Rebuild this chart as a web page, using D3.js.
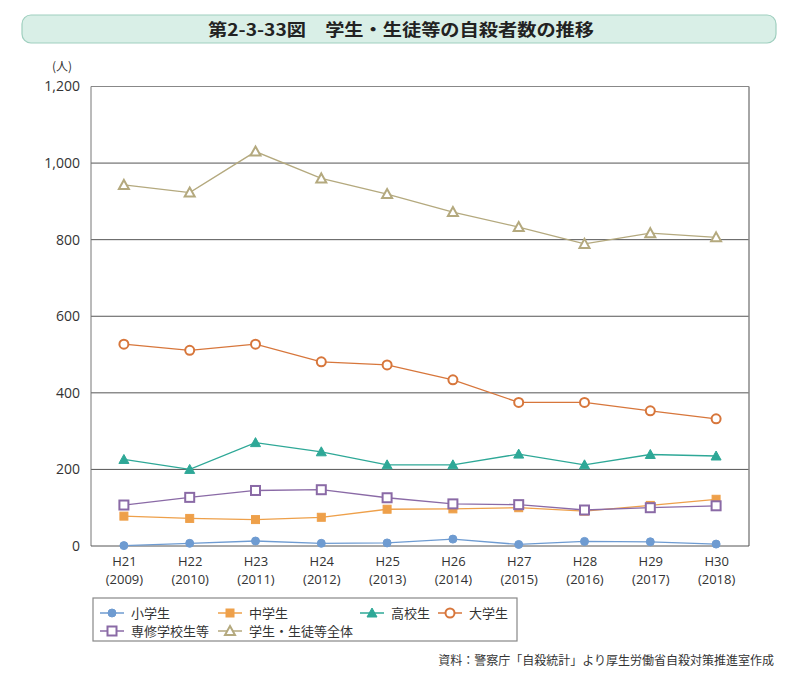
<!DOCTYPE html>
<html><head><meta charset="utf-8">
<script src="https://cdn.jsdelivr.net/npm/d3@7/dist/d3.min.js"></script>
<style>body{margin:0;background:#fff;}svg{display:block;font-family:"Noto Sans CJK JP","Noto Sans",sans-serif;}</style>
</head><body><svg id="c" width="800" height="682"></svg>
<script>
const categories = ["H21","H22","H23","H24","H25","H26","H27","H28","H29","H30"];
const years = ["(2009)","(2010)","(2011)","(2012)","(2013)","(2014)","(2015)","(2016)","(2017)","(2018)"];
const elementary = [1,7,13,7,8,18,4,12,11,5];
const juniorHigh = [78,72,69,75,96,97,100,91,106,122];
const highSchool = [226,200,270,246,212,212,240,212,239,235];
const university = [527,511,527,481,473,434,375,375,353,332];
const vocational = [107,127,145,147,126,110,108,94,100,105];
const total = [943,923,1030,960,919,872,833,789,817,806];
const yTicks = [0,200,400,600,800,1000,1200];
const seriesNames = ["小学生","中学生","高校生","大学生","専修学校生等","学生・生徒等全体"];

const series = [
  {name:seriesNames[0], values:elementary, color:"#6e9bd1", shape:"circle", filled:true},
  {name:seriesNames[1], values:juniorHigh, color:"#eea04a", shape:"square", filled:true},
  {name:seriesNames[2], values:highSchool, color:"#2ea897", shape:"triangle", filled:true},
  {name:seriesNames[3], values:university, color:"#d7763b", shape:"circle", filled:false},
  {name:seriesNames[4], values:vocational, color:"#8a6aa6", shape:"square", filled:false},
  {name:seriesNames[5], values:total, color:"#b4a97e", shape:"triangle", filled:false}
];

const svg = d3.select("#c");
const L=91, R=749, T=86.5, B=546;
const numFont = "'Open Sans','Noto Sans',sans-serif";

// title
svg.append("rect").attr("x",22).attr("y",15).attr("width",754).attr("height",28).attr("rx",9)
  .attr("fill","#d9efe7").attr("stroke","#9fcfbf").attr("stroke-width",1.2);
svg.append("text").attr("x",208).attr("y",35.5)
  .attr("font-size",17).attr("font-weight","bold").attr("fill","#222")
  .attr("textLength",386).attr("lengthAdjust","spacingAndGlyphs")
  .text("第2-3-33図　学生・生徒等の自殺者数の推移");

const x = d3.scalePoint().domain(categories).range([L,R]).padding(0.5);
const y = d3.scaleLinear().domain([0,1200]).range([B,T]);

// gridlines
svg.append("g").selectAll("line").data(yTicks.filter(d=>d>0)).join("line")
  .attr("x1",L).attr("x2",R).attr("y1",d=>y(d)).attr("y2",d=>y(d))
  .attr("stroke",d=>d===1200?"#888":"#555").attr("stroke-width",1);
// border
svg.append("line").attr("x1",L).attr("x2",L).attr("y1",T).attr("y2",B).attr("stroke","#777");
svg.append("line").attr("x1",R).attr("x2",R).attr("y1",T).attr("y2",B).attr("stroke","#888").attr("stroke-width",1.5);

// y axis
const yAxis = d3.axisLeft(y).tickValues(yTicks).tickSize(0).tickPadding(11).tickFormat(d3.format(","));
const gy = svg.append("g").attr("transform",`translate(${L},0)`).call(yAxis);
gy.select(".domain").remove();
gy.selectAll("text").attr("font-size",14).attr("fill","#333").attr("font-family",numFont);
svg.append("text").attr("x",62).attr("y",71).attr("text-anchor","middle").attr("font-size",12).attr("fill","#333").text("(人)");

// x axis
const xAxis = d3.axisBottom(x).tickSize(0).tickPadding(0);
const gx = svg.append("g").attr("transform",`translate(0,${B})`).call(xAxis);
gx.select(".domain").attr("stroke","#555").attr("d",`M${L},0H${R}`);
gx.selectAll("text").attr("y",20).attr("dy",null).attr("font-size",13).attr("fill","#333").attr("font-family",numFont);
gx.selectAll(".tick").append("text").attr("y",38).attr("fill","#333").attr("font-size",13)
  .attr("text-anchor","middle").attr("font-family",numFont)
  .text((d,i)=>years[i]);

function drawMarker(g, s, cx, cy){
  const sw = s.filled?1:2;
  const fill = s.filled?s.color:"#fff";
  if(s.shape==="circle"){
    g.append("circle").attr("cx",cx).attr("cy",cy).attr("r",s.filled?4:4.5)
      .attr("fill",fill).attr("stroke",s.color).attr("stroke-width",sw);
  } else if(s.shape==="square"){
    const h = s.filled?4:4.5;
    g.append("rect").attr("x",cx-h).attr("y",cy-h).attr("width",2*h).attr("height",2*h)
      .attr("fill",fill).attr("stroke",s.color).attr("stroke-width",sw);
  } else {
    const h = 5;
    g.append("path").attr("d",`M${cx},${cy-h}L${cx+h},${cy+h*0.8}L${cx-h},${cy+h*0.8}Z`)
      .attr("fill",fill).attr("stroke",s.color).attr("stroke-width",sw).attr("stroke-linejoin","miter");
  }
}

const line = d3.line().x((d,i)=>x(categories[i])).y(d=>y(d));
const drawOrder = [0,1,4,2,3,5];
drawOrder.forEach(k=>{
  const s = series[k];
  const g = svg.append("g");
  g.append("path").attr("d",line(s.values)).attr("fill","none").attr("stroke",s.color).attr("stroke-width",1.3);
  s.values.forEach((v,i)=>drawMarker(g,s,x(categories[i]),y(v)));
});

// legend
svg.append("rect").attr("x",93).attr("y",598).attr("width",424).attr("height",43)
  .attr("fill","#fff").attr("stroke","#888").attr("stroke-width",1.2);
const legPos = [[112,613],[230,613],[372,613],[450,613],[112,631],[230,631]];
series.forEach((s,i)=>{
  const [cx,cy] = legPos[i];
  const g = svg.append("g");
  g.append("line").attr("x1",cx-12).attr("x2",cx+12).attr("y1",cy).attr("y2",cy).attr("stroke",s.color).attr("stroke-width",1.5);
  drawMarker(g,s,cx,cy);
  g.append("text").attr("x",cx+19).attr("y",cy+4.5).attr("font-size",13).attr("fill","#333").text(s.name);
});

// source
svg.append("text").attr("x",774).attr("y",665).attr("text-anchor","end").attr("font-size",12).attr("fill","#333")
  .text("資料：警察庁「自殺統計」より厚生労働省自殺対策推進室作成");
</script></body></html>
